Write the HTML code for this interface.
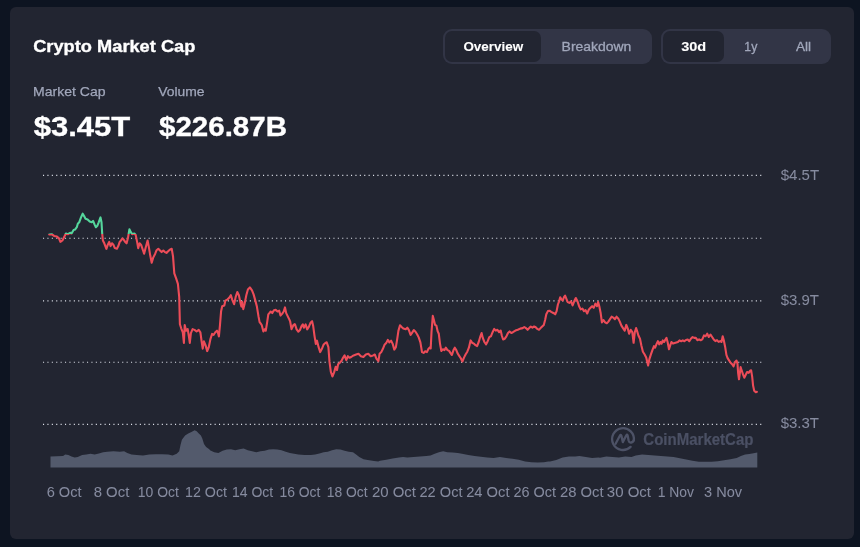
<!DOCTYPE html>
<html lang="en">
<head>
<meta charset="utf-8">
<title>Crypto Market Cap</title>
<style>
html,body{margin:0;padding:0;}
body{width:860px;height:547px;background:#0d1421;overflow:hidden;position:relative;font-family:"Liberation Sans",sans-serif;color:#fff;}
.card{position:absolute;left:10px;top:7px;width:843.5px;height:532px;background:#222531;border-radius:6px;}
.grp{position:absolute;top:28.9px;height:34.8px;background:#323546;border-radius:9px;}
.on{position:absolute;top:2.4px;height:30.8px;background:#222531;border-radius:7px;}
svg{position:absolute;left:0;top:0;will-change:transform;}
svg text{font-family:"Liberation Sans",sans-serif;white-space:pre;}
</style>
</head>
<body>
<div class="card"></div>
<div class="grp" style="left:442.8px;width:209px"><div class="on" style="left:2.6px;width:95.6px"></div></div>
<div class="grp" style="left:660.8px;width:169.8px"><div class="on" style="left:2.2px;width:61.2px"></div></div>

<svg width="860" height="547" viewBox="0 0 860 547">
  <defs>
    <clipPath id="up"><rect x="0" y="0" width="860" height="233.9"/></clipPath>
    <clipPath id="dn"><rect x="0" y="233.9" width="860" height="400"/></clipPath>
  </defs>
  <g stroke="#dcdfe8" stroke-width="1.1" stroke-dasharray="1.1 3.3" fill="none">
<line x1="43.0" x2="763.4" y1="175.4" y2="175.4"/>
<line x1="43.0" x2="763.4" y1="238.3" y2="238.3"/>
<line x1="43.0" x2="763.4" y1="300.9" y2="300.9"/>
<line x1="43.0" x2="763.4" y1="362.3" y2="362.3"/>
<line x1="43.0" x2="763.4" y1="424.4" y2="424.4"/>
  </g>
  <path d="M50.5,467.6 L50.5,456.5 L63.1,456.1 L65.2,454.4 L68.4,455.1 L71.5,456.5 L74.7,457.6 L77.8,457.1 L82.1,455.1 L86.3,454.4 L90.5,453.8 L94.7,454.4 L98.9,453.4 L103.1,452.3 L107.3,451.7 L113.6,451.3 L119.9,451.7 L124.1,451.3 L127.3,452.9 L131.5,454.4 L136.7,455.1 L143.0,455.5 L149.3,454.6 L155.7,454.2 L162.0,454.2 L168.3,454.6 L172.5,455.5 L176.7,453.8 L179.2,451.3 L180.5,444.9 L181.9,439.7 L185.1,435.5 L188.2,433.4 L191.4,431.9 L194.6,430.2 L196.7,431.3 L198.8,433.4 L200.9,435.5 L202.3,438.6 L204.0,443.9 L206.1,447.1 L209.3,449.2 L210.0,450.2 L214.2,452.3 L218.4,452.9 L222.6,450.8 L226.8,449.6 L231.0,449.2 L235.2,450.2 L239.4,449.2 L243.6,448.5 L247.8,450.2 L252.1,451.3 L256.3,452.3 L260.5,451.3 L264.7,450.8 L268.9,449.6 L273.1,449.2 L277.3,449.6 L281.5,450.2 L285.7,451.7 L289.9,452.9 L294.1,453.8 L298.3,454.6 L304.6,455.1 L310.9,455.1 L315.1,454.6 L319.4,453.4 L323.6,452.3 L327.8,451.7 L332.0,450.2 L336.2,449.2 L340.4,449.6 L344.6,450.8 L348.8,451.7 L353.0,452.3 L356.1,454.4 L359.3,457.1 L363.5,459.2 L367.7,460.1 L374.0,460.9 L378.2,461.4 L380.0,460.7 L386.3,459.7 L392.6,458.6 L398.9,457.6 L403.1,456.9 L407.3,457.6 L413.6,457.1 L419.9,456.5 L426.3,456.1 L430.5,455.5 L434.7,453.8 L438.9,452.3 L443.1,451.3 L447.3,452.3 L452.6,452.5 L457.8,452.9 L462.0,453.8 L468.3,455.1 L474.6,455.9 L480.9,456.7 L487.2,457.6 L493.6,458.0 L499.9,457.1 L506.2,458.0 L512.5,458.8 L518.8,459.7 L525.1,461.4 L531.4,462.2 L537.7,462.6 L544.0,462.2 L548.2,461.6 L550.0,461.4 L556.3,460.1 L562.6,457.6 L568.9,456.5 L575.2,456.5 L579.4,456.1 L585.8,457.1 L592.1,458.0 L598.4,457.6 L600.0,457.7 L606.3,456.6 L612.6,457.1 L618.9,457.5 L625.2,456.6 L631.5,457.1 L635.8,455.4 L642.1,454.5 L648.4,454.9 L654.7,455.4 L661.0,456.0 L667.3,456.6 L673.6,457.1 L679.9,458.3 L686.2,459.6 L692.5,460.8 L698.8,461.7 L705.1,461.7 L711.5,461.7 L717.8,461.3 L724.1,460.2 L730.4,459.2 L736.7,457.9 L740.9,456.0 L745.1,454.5 L749.3,454.1 L753.5,453.3 L757.3,452.4 L757.3,467.6 Z" fill="#535a6c"/>
  <g fill="none" stroke="#4d5266" stroke-width="2.3" stroke-linecap="round" stroke-linejoin="round" transform="translate(623 439.1)">
    <path d="M10.8,1.6 A10.9,10.9 0 1 0 7.6,7.8"/>
    <path d="M-7.4,4.6 L-3.0,-3.6 Q-2.2,-5 -1.6,-3.4 L-0.2,3.0 L3.2,-3.6 Q4.2,-5.2 4.7,-3.4 L5.6,1.4 Q6.2,3.8 8.2,3.4 Q10.2,3 10.8,1.0"/>
  </g>
  <polyline points="49.2,234.5 52.0,234.3 54.1,235.9 56.9,236.6 59.0,238.4 60.4,241.9 62.4,240.5 63.8,237.7 65.9,233.5 68.0,234.2 70.1,232.8 71.5,233.5 73.6,230.0 75.0,229.6 76.8,227.2 77.8,223.7 79.2,222.3 81.0,217.4 82.7,213.7 84.1,216.1 85.5,218.8 87.6,219.5 89.7,221.6 91.7,222.3 93.1,220.9 94.5,224.4 95.9,227.2 97.3,225.8 98.7,222.3 100.5,217.4 101.5,222.3 102.2,233.5 102.9,240.5 104.3,243.3 106.4,248.8 107.8,244.7 109.2,241.9 110.6,246.1 112.0,243.3 113.4,244.7 114.8,248.1 116.9,248.8 118.3,246.1 119.7,241.9 121.0,240.5 122.4,238.4 123.8,239.8 125.2,241.9 126.6,243.3 128.0,237.7 129.4,229.3 130.8,232.1 132.2,234.2 134.3,233.5 135.7,234.9 137.1,241.9 138.2,248.1 139.6,243.3 141.3,245.3 142.7,249.5 144.1,253.7 145.7,247.4 147.6,240.5 148.9,247.4 150.3,255.8 151.7,262.8 153.1,257.9 155.2,253.7 156.6,250.2 158.3,248.8 160.0,250.5 161.6,252.1 163.3,250.5 164.9,252.1 166.5,252.9 168.1,251.3 169.8,249.7 171.7,248.8 173.0,256.2 174.3,273.3 176.3,278.9 177.9,283.8 179.2,296.9 179.9,324.2 181.2,328.3 182.8,332.3 183.9,342.9 184.7,325.0 186.1,330.7 187.7,329.1 189.0,337.2 189.8,342.9 190.9,333.1 192.6,329.1 194.5,329.9 196.6,331.5 198.7,329.9 200.4,332.3 201.5,340.5 202.7,348.6 203.9,341.3 205.6,345.4 207.2,351.1 208.8,347.0 210.5,338.8 212.1,333.9 213.7,334.8 215.3,332.3 217.0,330.7 218.3,333.9 218.9,336.4 219.9,325.8 221.1,311.2 222.2,306.3 224.3,305.5 225.4,300.6 227.6,299.3 229.2,297.7 230.8,295.2 232.4,300.1 234.1,304.2 235.7,296.9 237.3,292.0 238.9,295.2 240.6,303.4 241.4,306.6 242.2,301.7 243.3,309.1 244.7,303.4 246.3,295.2 247.9,289.5 249.9,287.4 252.0,290.4 253.6,294.4 255.2,300.1 256.9,306.6 258.5,316.4 259.6,322.1 260.6,323.4 261.7,325.0 263.4,331.5 265.0,329.1 265.8,330.7 267.1,322.6 268.3,314.4 269.4,313.1 270.7,311.5 272.3,313.1 273.9,310.2 275.9,309.9 277.5,311.5 279.2,310.7 280.5,315.6 282.1,313.9 283.7,311.5 285.0,307.4 286.2,313.1 287.8,316.4 289.4,319.6 290.2,321.7 291.5,329.1 293.5,325.0 294.8,324.2 295.0,324.4 296.6,329.3 298.3,331.7 299.9,330.1 301.5,326.1 302.8,324.4 303.9,327.7 305.6,324.4 307.2,329.3 308.8,326.9 310.5,322.8 312.1,321.2 313.2,326.1 314.5,335.8 315.8,343.9 317.0,340.7 318.6,347.2 320.2,352.1 321.9,348.8 323.5,344.8 325.1,343.1 326.7,342.3 328.4,347.2 329.5,361.9 330.8,371.6 332.4,376.5 334.1,372.4 335.7,366.7 337.0,370.0 338.1,364.3 339.8,362.7 341.4,361.1 343.0,357.8 344.6,355.4 346.3,360.2 347.9,356.2 349.5,357.8 351.2,357.0 353.6,355.4 356.1,354.5 358.5,353.7 360.9,356.2 363.4,357.0 365.8,354.5 368.3,353.7 370.7,356.2 373.1,355.4 374.8,354.5 376.4,358.6 378.4,361.1 379.6,353.7 381.3,352.1 382.9,348.8 384.5,344.8 386.2,343.1 387.8,339.9 389.4,342.3 391.1,340.7 392.7,343.9 394.3,349.6 395.9,347.2 397.2,339.1 398.4,330.9 400.0,325.2 401.6,326.9 403.3,328.5 405.7,329.3 407.3,327.7 408.9,330.1 410.6,335.0 412.2,332.6 413.8,330.1 415.5,331.7 417.1,334.2 418.7,337.4 420.4,342.3 422.0,352.1 423.6,352.9 425.2,351.3 426.9,352.1 428.5,348.8 430.1,347.2 430.7,348.5 431.5,332.2 432.8,315.9 433.9,320.0 435.1,324.9 436.4,325.7 437.7,331.4 438.8,333.8 440.0,343.6 441.3,350.9 442.9,349.3 444.5,350.1 445.8,347.7 447.5,350.1 449.1,350.9 450.7,353.4 451.9,355.0 453.5,350.1 454.8,347.7 456.3,350.1 457.6,353.4 459.2,355.8 460.8,358.3 462.4,361.5 464.1,357.4 465.7,354.2 467.3,351.7 468.9,347.7 470.6,340.4 472.2,342.8 473.8,343.6 475.5,345.2 477.1,346.1 478.7,342.0 480.4,336.3 481.6,333.0 482.8,337.9 484.4,342.0 486.1,344.4 487.7,341.2 489.3,337.1 490.9,336.3 492.6,332.2 494.2,328.9 495.8,330.6 497.4,329.8 499.1,332.2 500.7,330.6 501.8,335.5 503.1,339.5 504.8,338.7 506.4,336.3 508.0,333.0 509.6,331.4 511.3,333.0 512.9,332.2 515.4,330.6 517.8,329.8 520.2,328.6 522.7,328.1 524.3,327.0 525.9,328.1 527.6,329.8 529.2,328.1 530.8,326.5 532.4,327.6 534.1,326.5 535.7,327.3 537.3,328.9 539.0,329.8 540.6,328.1 542.2,326.5 543.8,324.9 545.1,320.0 546.3,314.3 547.9,311.1 549.5,310.7 551.2,311.9 552.8,312.7 554.4,313.5 555.2,314.3 556.6,311.1 557.9,304.5 559.1,301.3 560.2,297.2 561.5,299.6 562.8,300.5 564.0,297.2 565.1,295.6 566.4,298.8 567.7,302.1 569.3,302.9 571.0,301.3 572.6,305.4 574.2,301.3 575.8,298.0 577.5,301.3 579.1,306.2 580.7,309.4 582.4,308.6 584.0,311.1 585.6,310.2 587.2,313.5 588.9,309.4 590.5,307.8 592.1,306.2 593.7,307.8 595.4,303.7 597.0,306.2 598.1,302.1 599.3,306.2 600.6,312.7 601.9,322.4 603.5,320.0 605.1,322.4 606.8,323.3 608.4,321.6 610.0,319.2 611.6,316.7 613.3,317.6 614.9,319.2 616.5,316.7 618.2,318.4 619.8,321.6 621.4,325.7 623.0,328.1 624.7,330.6 626.3,324.9 627.9,328.9 629.1,333.8 630.7,329.8 632.3,332.2 633.6,342.8 634.8,332.2 636.1,328.1 637.2,331.4 638.4,335.5 640.0,338.7 641.3,345.2 642.9,351.7 644.5,354.2 646.2,357.4 648.1,365.6 649.4,359.1 651.0,354.2 652.7,349.3 654.0,346.1 655.1,347.7 656.7,343.6 657.9,341.2 659.2,344.4 660.5,342.0 661.6,343.6 662.8,340.4 664.1,342.0 665.4,339.5 666.5,337.9 667.6,342.0 669.0,349.3 670.3,345.2 671.4,342.0 673.0,343.6 675.5,342.8 677.9,342.0 679.5,340.4 681.2,341.2 682.8,340.4 684.4,341.2 686.0,340.0 687.7,339.5 689.3,341.2 690.9,338.7 692.6,337.1 694.2,337.9 695.8,337.8 697.4,340.2 699.1,339.4 700.7,340.2 702.3,339.4 704.0,335.4 705.6,336.2 707.2,333.7 708.8,337.0 710.5,334.5 712.1,337.0 713.7,339.4 715.4,341.1 717.0,340.2 718.6,341.9 720.2,341.1 721.5,341.9 722.7,336.2 723.8,340.2 725.1,346.7 726.4,354.9 727.6,358.1 729.2,360.6 730.8,363.0 732.4,364.6 733.6,366.3 734.9,362.2 736.5,360.6 737.5,363.8 738.1,372.8 739.0,379.3 739.8,373.6 740.6,367.1 741.4,369.5 743.0,374.4 744.3,377.7 745.5,375.2 747.1,372.0 748.7,372.8 750.4,370.4 751.1,370.2 752.2,376.8 753.1,385.6 754.2,390.7 755.8,392.2 756.9,391.8" fill="none" stroke="#ec4c58" stroke-width="2.1" stroke-linejoin="round" stroke-linecap="round" clip-path="url(#dn)"/>
  <polyline points="49.2,234.5 52.0,234.3 54.1,235.9 56.9,236.6 59.0,238.4 60.4,241.9 62.4,240.5 63.8,237.7 65.9,233.5 68.0,234.2 70.1,232.8 71.5,233.5 73.6,230.0 75.0,229.6 76.8,227.2 77.8,223.7 79.2,222.3 81.0,217.4 82.7,213.7 84.1,216.1 85.5,218.8 87.6,219.5 89.7,221.6 91.7,222.3 93.1,220.9 94.5,224.4 95.9,227.2 97.3,225.8 98.7,222.3 100.5,217.4 101.5,222.3 102.2,233.5 102.9,240.5 104.3,243.3 106.4,248.8 107.8,244.7 109.2,241.9 110.6,246.1 112.0,243.3 113.4,244.7 114.8,248.1 116.9,248.8 118.3,246.1 119.7,241.9 121.0,240.5 122.4,238.4 123.8,239.8 125.2,241.9 126.6,243.3 128.0,237.7 129.4,229.3 130.8,232.1 132.2,234.2 134.3,233.5 135.7,234.9 137.1,241.9 138.2,248.1 139.6,243.3 141.3,245.3 142.7,249.5 144.1,253.7 145.7,247.4 147.6,240.5 148.9,247.4 150.3,255.8 151.7,262.8 153.1,257.9 155.2,253.7 156.6,250.2 158.3,248.8 160.0,250.5 161.6,252.1 163.3,250.5 164.9,252.1 166.5,252.9 168.1,251.3 169.8,249.7 171.7,248.8 173.0,256.2 174.3,273.3 176.3,278.9 177.9,283.8 179.2,296.9 179.9,324.2 181.2,328.3 182.8,332.3 183.9,342.9 184.7,325.0 186.1,330.7 187.7,329.1 189.0,337.2 189.8,342.9 190.9,333.1 192.6,329.1 194.5,329.9 196.6,331.5 198.7,329.9 200.4,332.3 201.5,340.5 202.7,348.6 203.9,341.3 205.6,345.4 207.2,351.1 208.8,347.0 210.5,338.8 212.1,333.9 213.7,334.8 215.3,332.3 217.0,330.7 218.3,333.9 218.9,336.4 219.9,325.8 221.1,311.2 222.2,306.3 224.3,305.5 225.4,300.6 227.6,299.3 229.2,297.7 230.8,295.2 232.4,300.1 234.1,304.2 235.7,296.9 237.3,292.0 238.9,295.2 240.6,303.4 241.4,306.6 242.2,301.7 243.3,309.1 244.7,303.4 246.3,295.2 247.9,289.5 249.9,287.4 252.0,290.4 253.6,294.4 255.2,300.1 256.9,306.6 258.5,316.4 259.6,322.1 260.6,323.4 261.7,325.0 263.4,331.5 265.0,329.1 265.8,330.7 267.1,322.6 268.3,314.4 269.4,313.1 270.7,311.5 272.3,313.1 273.9,310.2 275.9,309.9 277.5,311.5 279.2,310.7 280.5,315.6 282.1,313.9 283.7,311.5 285.0,307.4 286.2,313.1 287.8,316.4 289.4,319.6 290.2,321.7 291.5,329.1 293.5,325.0 294.8,324.2 295.0,324.4 296.6,329.3 298.3,331.7 299.9,330.1 301.5,326.1 302.8,324.4 303.9,327.7 305.6,324.4 307.2,329.3 308.8,326.9 310.5,322.8 312.1,321.2 313.2,326.1 314.5,335.8 315.8,343.9 317.0,340.7 318.6,347.2 320.2,352.1 321.9,348.8 323.5,344.8 325.1,343.1 326.7,342.3 328.4,347.2 329.5,361.9 330.8,371.6 332.4,376.5 334.1,372.4 335.7,366.7 337.0,370.0 338.1,364.3 339.8,362.7 341.4,361.1 343.0,357.8 344.6,355.4 346.3,360.2 347.9,356.2 349.5,357.8 351.2,357.0 353.6,355.4 356.1,354.5 358.5,353.7 360.9,356.2 363.4,357.0 365.8,354.5 368.3,353.7 370.7,356.2 373.1,355.4 374.8,354.5 376.4,358.6 378.4,361.1 379.6,353.7 381.3,352.1 382.9,348.8 384.5,344.8 386.2,343.1 387.8,339.9 389.4,342.3 391.1,340.7 392.7,343.9 394.3,349.6 395.9,347.2 397.2,339.1 398.4,330.9 400.0,325.2 401.6,326.9 403.3,328.5 405.7,329.3 407.3,327.7 408.9,330.1 410.6,335.0 412.2,332.6 413.8,330.1 415.5,331.7 417.1,334.2 418.7,337.4 420.4,342.3 422.0,352.1 423.6,352.9 425.2,351.3 426.9,352.1 428.5,348.8 430.1,347.2 430.7,348.5 431.5,332.2 432.8,315.9 433.9,320.0 435.1,324.9 436.4,325.7 437.7,331.4 438.8,333.8 440.0,343.6 441.3,350.9 442.9,349.3 444.5,350.1 445.8,347.7 447.5,350.1 449.1,350.9 450.7,353.4 451.9,355.0 453.5,350.1 454.8,347.7 456.3,350.1 457.6,353.4 459.2,355.8 460.8,358.3 462.4,361.5 464.1,357.4 465.7,354.2 467.3,351.7 468.9,347.7 470.6,340.4 472.2,342.8 473.8,343.6 475.5,345.2 477.1,346.1 478.7,342.0 480.4,336.3 481.6,333.0 482.8,337.9 484.4,342.0 486.1,344.4 487.7,341.2 489.3,337.1 490.9,336.3 492.6,332.2 494.2,328.9 495.8,330.6 497.4,329.8 499.1,332.2 500.7,330.6 501.8,335.5 503.1,339.5 504.8,338.7 506.4,336.3 508.0,333.0 509.6,331.4 511.3,333.0 512.9,332.2 515.4,330.6 517.8,329.8 520.2,328.6 522.7,328.1 524.3,327.0 525.9,328.1 527.6,329.8 529.2,328.1 530.8,326.5 532.4,327.6 534.1,326.5 535.7,327.3 537.3,328.9 539.0,329.8 540.6,328.1 542.2,326.5 543.8,324.9 545.1,320.0 546.3,314.3 547.9,311.1 549.5,310.7 551.2,311.9 552.8,312.7 554.4,313.5 555.2,314.3 556.6,311.1 557.9,304.5 559.1,301.3 560.2,297.2 561.5,299.6 562.8,300.5 564.0,297.2 565.1,295.6 566.4,298.8 567.7,302.1 569.3,302.9 571.0,301.3 572.6,305.4 574.2,301.3 575.8,298.0 577.5,301.3 579.1,306.2 580.7,309.4 582.4,308.6 584.0,311.1 585.6,310.2 587.2,313.5 588.9,309.4 590.5,307.8 592.1,306.2 593.7,307.8 595.4,303.7 597.0,306.2 598.1,302.1 599.3,306.2 600.6,312.7 601.9,322.4 603.5,320.0 605.1,322.4 606.8,323.3 608.4,321.6 610.0,319.2 611.6,316.7 613.3,317.6 614.9,319.2 616.5,316.7 618.2,318.4 619.8,321.6 621.4,325.7 623.0,328.1 624.7,330.6 626.3,324.9 627.9,328.9 629.1,333.8 630.7,329.8 632.3,332.2 633.6,342.8 634.8,332.2 636.1,328.1 637.2,331.4 638.4,335.5 640.0,338.7 641.3,345.2 642.9,351.7 644.5,354.2 646.2,357.4 648.1,365.6 649.4,359.1 651.0,354.2 652.7,349.3 654.0,346.1 655.1,347.7 656.7,343.6 657.9,341.2 659.2,344.4 660.5,342.0 661.6,343.6 662.8,340.4 664.1,342.0 665.4,339.5 666.5,337.9 667.6,342.0 669.0,349.3 670.3,345.2 671.4,342.0 673.0,343.6 675.5,342.8 677.9,342.0 679.5,340.4 681.2,341.2 682.8,340.4 684.4,341.2 686.0,340.0 687.7,339.5 689.3,341.2 690.9,338.7 692.6,337.1 694.2,337.9 695.8,337.8 697.4,340.2 699.1,339.4 700.7,340.2 702.3,339.4 704.0,335.4 705.6,336.2 707.2,333.7 708.8,337.0 710.5,334.5 712.1,337.0 713.7,339.4 715.4,341.1 717.0,340.2 718.6,341.9 720.2,341.1 721.5,341.9 722.7,336.2 723.8,340.2 725.1,346.7 726.4,354.9 727.6,358.1 729.2,360.6 730.8,363.0 732.4,364.6 733.6,366.3 734.9,362.2 736.5,360.6 737.5,363.8 738.1,372.8 739.0,379.3 739.8,373.6 740.6,367.1 741.4,369.5 743.0,374.4 744.3,377.7 745.5,375.2 747.1,372.0 748.7,372.8 750.4,370.4 751.1,370.2 752.2,376.8 753.1,385.6 754.2,390.7 755.8,392.2 756.9,391.8" fill="none" stroke="#55d69c" stroke-width="2.1" stroke-linejoin="round" stroke-linecap="round" clip-path="url(#up)"/>
<text x="33.20" y="52.20" font-size="17.3" font-weight="700" fill="#fff" stroke="#fff" stroke-width="0.35" textLength="162.20" lengthAdjust="spacingAndGlyphs">Crypto Market Cap</text>
<text x="33.00" y="96.30" font-size="13.2" font-weight="400" fill="#a1a7bb" stroke="#a1a7bb" stroke-width="0.25" textLength="72.50" lengthAdjust="spacingAndGlyphs">Market Cap</text>
<text x="158.20" y="96.30" font-size="13.2" font-weight="400" fill="#a1a7bb" stroke="#a1a7bb" stroke-width="0.25" textLength="46.30" lengthAdjust="spacingAndGlyphs">Volume</text>
<text x="33.70" y="136.10" font-size="28.3" font-weight="700" fill="#fff" stroke="#fff" stroke-width="0.35" textLength="96.50" lengthAdjust="spacingAndGlyphs">$3.45T</text>
<text x="159.00" y="136.10" font-size="28.3" font-weight="700" fill="#fff" stroke="#fff" stroke-width="0.35" textLength="128.00" lengthAdjust="spacingAndGlyphs">$226.87B</text>
<text x="463.40" y="50.90" font-size="13.3" font-weight="700" fill="#fff" stroke="#fff" stroke-width="0.1" textLength="59.70" lengthAdjust="spacingAndGlyphs">Overview</text>
<text x="561.60" y="50.90" font-size="13.3" font-weight="400" fill="#a1a7bb" stroke="#a1a7bb" stroke-width="0.3" textLength="69.70" lengthAdjust="spacingAndGlyphs">Breakdown</text>
<text x="681.20" y="50.90" font-size="13.3" font-weight="700" fill="#fff" stroke="#fff" stroke-width="0.1" textLength="25.00" lengthAdjust="spacingAndGlyphs">30d</text>
<text x="744.30" y="50.90" font-size="13.3" font-weight="400" fill="#a1a7bb" stroke="#a1a7bb" stroke-width="0.3" textLength="13.00" lengthAdjust="spacingAndGlyphs">1y</text>
<text x="796.00" y="50.90" font-size="13.3" font-weight="400" fill="#a1a7bb" stroke="#a1a7bb" stroke-width="0.3" textLength="15.10" lengthAdjust="spacingAndGlyphs">All</text>
<text x="780.70" y="180.30" font-size="14.5" font-weight="400" fill="#868b9f" stroke="#868b9f" stroke-width="0.05" textLength="38.50" lengthAdjust="spacingAndGlyphs">$4.5T</text>
<text x="780.70" y="304.80" font-size="14.5" font-weight="400" fill="#868b9f" stroke="#868b9f" stroke-width="0.05" textLength="38.30" lengthAdjust="spacingAndGlyphs">$3.9T</text>
<text x="780.70" y="427.90" font-size="14.5" font-weight="400" fill="#868b9f" stroke="#868b9f" stroke-width="0.05" textLength="38.30" lengthAdjust="spacingAndGlyphs">$3.3T</text>
<text x="643.30" y="444.80" font-size="15.6" font-weight="700" fill="#4b5064" stroke="#4b5064" stroke-width="0.2" textLength="110.20" lengthAdjust="spacingAndGlyphs">CoinMarketCap</text>
<text x="46.70" y="496.90" font-size="14.2" font-weight="400" fill="#868b9f" stroke="#868b9f" stroke-width="0.05" textLength="34.90" lengthAdjust="spacingAndGlyphs">6 Oct</text>
<text x="93.70" y="496.90" font-size="14.2" font-weight="400" fill="#868b9f" stroke="#868b9f" stroke-width="0.05" textLength="35.60" lengthAdjust="spacingAndGlyphs">8 Oct</text>
<text x="137.80" y="496.90" font-size="14.2" font-weight="400" fill="#868b9f" stroke="#868b9f" stroke-width="0.05" textLength="41.00" lengthAdjust="spacingAndGlyphs">10 Oct</text>
<text x="185.00" y="496.90" font-size="14.2" font-weight="400" fill="#868b9f" stroke="#868b9f" stroke-width="0.05" textLength="42.00" lengthAdjust="spacingAndGlyphs">12 Oct</text>
<text x="232.00" y="496.90" font-size="14.2" font-weight="400" fill="#868b9f" stroke="#868b9f" stroke-width="0.05" textLength="41.20" lengthAdjust="spacingAndGlyphs">14 Oct</text>
<text x="279.40" y="496.90" font-size="14.2" font-weight="400" fill="#868b9f" stroke="#868b9f" stroke-width="0.05" textLength="41.00" lengthAdjust="spacingAndGlyphs">16 Oct</text>
<text x="326.70" y="496.90" font-size="14.2" font-weight="400" fill="#868b9f" stroke="#868b9f" stroke-width="0.05" textLength="40.80" lengthAdjust="spacingAndGlyphs">18 Oct</text>
<text x="371.90" y="496.90" font-size="14.2" font-weight="400" fill="#868b9f" stroke="#868b9f" stroke-width="0.05" textLength="44.10" lengthAdjust="spacingAndGlyphs">20 Oct</text>
<text x="419.50" y="496.90" font-size="14.2" font-weight="400" fill="#868b9f" stroke="#868b9f" stroke-width="0.05" textLength="43.00" lengthAdjust="spacingAndGlyphs">22 Oct</text>
<text x="466.20" y="496.90" font-size="14.2" font-weight="400" fill="#868b9f" stroke="#868b9f" stroke-width="0.05" textLength="43.30" lengthAdjust="spacingAndGlyphs">24 Oct</text>
<text x="513.50" y="496.90" font-size="14.2" font-weight="400" fill="#868b9f" stroke="#868b9f" stroke-width="0.05" textLength="42.50" lengthAdjust="spacingAndGlyphs">26 Oct</text>
<text x="560.00" y="496.90" font-size="14.2" font-weight="400" fill="#868b9f" stroke="#868b9f" stroke-width="0.05" textLength="43.60" lengthAdjust="spacingAndGlyphs">28 Oct</text>
<text x="606.80" y="496.90" font-size="14.2" font-weight="400" fill="#868b9f" stroke="#868b9f" stroke-width="0.05" textLength="44.20" lengthAdjust="spacingAndGlyphs">30 Oct</text>
<text x="657.70" y="496.90" font-size="14.2" font-weight="400" fill="#868b9f" stroke="#868b9f" stroke-width="0.05" textLength="36.30" lengthAdjust="spacingAndGlyphs">1 Nov</text>
<text x="704.00" y="496.90" font-size="14.2" font-weight="400" fill="#868b9f" stroke="#868b9f" stroke-width="0.05" textLength="38.00" lengthAdjust="spacingAndGlyphs">3 Nov</text>
</svg>
</body>
</html>
